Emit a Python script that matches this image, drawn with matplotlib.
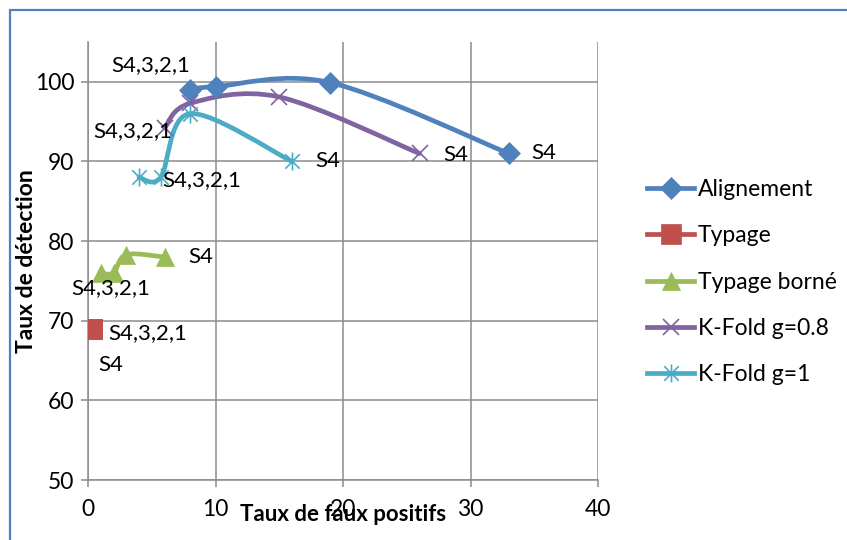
import matplotlib.pyplot as plt
import numpy as np
from matplotlib.path import Path
from matplotlib.patches import PathPatch, Rectangle
from matplotlib.lines import Line2D

plt.rcParams['font.family'] = ['Lato', 'DejaVu Sans']

# Données (taux de faux positifs, taux de détection)
align_x = [8, 10, 19, 33]
align_y = [99, 99.4, 99.9, 91]
typage_x = [0.3, 0.3]
typage_y = [69, 69]
borne_x = [1, 2, 3, 6]
borne_y = [76, 76, 78.3, 78]
kf08_x = [6, 8, 15, 26]
kf08_y = [94.2, 97.3, 98.1, 91]
kf1_x = [4, 5.7, 8, 16]
kf1_y = [88, 88, 96, 90]

noms = ['Alignement', 'Typage', 'Typage borné', 'K-Fold g=0.8', 'K-Fold g=1']
couleurs = ['#4F81BD', '#C0504D', '#9BBB59', '#8064A2', '#4BACC6']

# marqueur étoile : barre verticale + croix
etoile = Path([(0, -1), (0, 1), (-0.8, -0.8), (0.8, 0.8), (-0.8, 0.8), (0.8, -0.8)],
              [Path.MOVETO, Path.LINETO] * 3)
marqueurs = ['D', 's', '^', 'x', etoile]
tailles = [11, 14, 13, 11, 13]


def courbe_lisse(x, y):
    # segments de Bezier façon Excel (Catmull-Rom)
    p = np.column_stack([x, y]).astype(float)
    p = np.vstack([p[0], p, p[-1]])
    verts = [p[1]]
    codes = [Path.MOVETO]
    for i in range(1, len(p) - 2):
        c1 = p[i] + (p[i + 1] - p[i - 1]) / 6
        c2 = p[i + 1] - (p[i + 2] - p[i]) / 6
        verts += [c1, c2, p[i + 1]]
        codes += [Path.CURVE4] * 3
    return Path(verts, codes)


fig = plt.figure(figsize=(8.47, 5.40), dpi=100)
ax = fig.add_axes([88 / 847, 60 / 540, 510 / 847, 438 / 540])

series = [(align_x, align_y), (typage_x, typage_y), (borne_x, borne_y),
          (kf08_x, kf08_y), (kf1_x, kf1_y)]
handles = []
for (x, y), nom, c, m, ms in zip(series, noms, couleurs, marqueurs, tailles):
    if len(set(x)) > 1:
        ax.add_patch(PathPatch(courbe_lisse(x, y), facecolor='none',
                               edgecolor=c, lw=3.4, capstyle='round', zorder=3))
    mew = 1.2 if m is etoile or m == 'x' else 0.5
    ax.plot(x, y, linestyle='none', marker=m, ms=ms, color=c, mec=c,
            mew=mew, zorder=4)
    handles.append(Line2D([], [], color=c, lw=3.4, marker=m, ms=ms,
                          mec=c, mew=mew, label=nom))

# étiquettes des points (décalages en points)
lbl = dict(fontsize=16, textcoords='offset points', va='center', zorder=5)
ax.annotate('S4,3,2,1', (align_x[0], align_y[0]), xytext=(-57, 18), **lbl)
ax.annotate('S4', (align_x[-1], align_y[-1]), xytext=(16, 0), **lbl)
ax.annotate('S4,3,2,1', (typage_x[0], typage_y[0]), xytext=(12, -3), **lbl)
ax.annotate('S4', (typage_x[1], typage_y[1]), xytext=(5, -26), **lbl)
ax.annotate('S4,3,2,1', (borne_x[0], borne_y[0]), xytext=(-21, -11), **lbl)
ax.annotate('S4', (borne_x[-1], borne_y[-1]), xytext=(17, 0), **lbl)
ax.annotate('S4,3,2,1', (kf08_x[0], kf08_y[0]), xytext=(-51, -2), **lbl)
ax.annotate('S4', (kf08_x[-1], kf08_y[-1]), xytext=(17, -1), **lbl)
ax.annotate('S4,3,2,1', (kf1_x[0], kf1_y[0]), xytext=(17, -2), **lbl)
ax.annotate('S4', (kf1_x[-1], kf1_y[-1]), xytext=(17, 0), **lbl)

ax.set_xlim(0, 40)
ax.set_ylim(50, 105)
ax.set_xticks(np.arange(0, 41, 10))
ax.set_yticks(np.arange(50, 101, 10))
ax.grid(True, color='#8C8C8C', lw=1.1)
ax.set_axisbelow(True)
for s in ['top', 'right']:
    ax.spines[s].set_visible(False)
for s in ['left', 'bottom']:
    ax.spines[s].set_color('#8C8C8C')
    ax.spines[s].set_linewidth(1.1)
ax.tick_params(colors='#8C8C8C', labelcolor='black', labelsize=16.5,
               length=5, width=1.1, pad=5)
ax.tick_params(axis='x', pad=9)

ax.set_xlabel('Taux de faux positifs', fontsize=16, fontweight='bold', labelpad=-12)
ax.set_ylabel('Taux de détection', fontsize=16.5, fontweight='bold', labelpad=-2)

fig.legend(handles=handles, loc='upper left', bbox_to_anchor=(638 / 847, 1 - 170 / 540),
           frameon=False, fontsize=16.5, labelspacing=1.1, handlelength=2.05,
           handletextpad=0.15, borderaxespad=0)

# cadre du graphique
fig.add_artist(Rectangle((10 / 847, -0.1), 1.2, 1.1 - 10 / 540, transform=fig.transFigure,
                         fill=False, edgecolor='#4F81BD', lw=1.6))

fig.savefig('out.png', dpi=100)
